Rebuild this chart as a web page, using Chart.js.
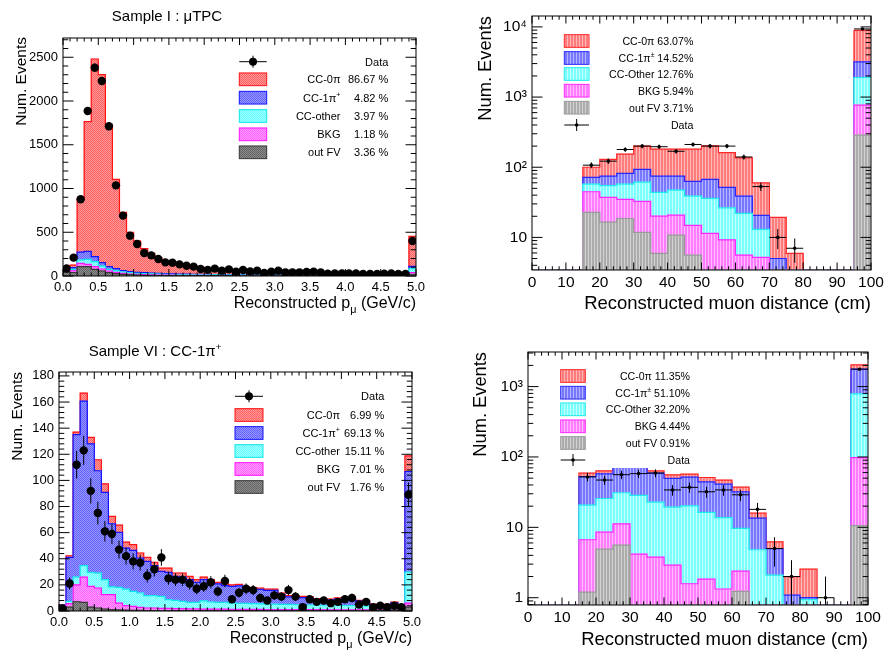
<!DOCTYPE html>
<html lang="en">
<head>
<meta charset="UTF-8">
<title>Reconstructed muon momentum and distance</title>
<script src="https://cdn.jsdelivr.net/npm/chart.js@4/dist/chart.umd.min.js"></script>
<style>
  * { margin: 0; padding: 0; }
  body { background: #fff; width: 884px; height: 653px; overflow: hidden; position: relative; }
  canvas { position: absolute; }
</style>
</head>
<body>
<canvas id="c1" width="442" height="320" style="left:0;top:0"></canvas>
<canvas id="c2" width="442" height="320" style="left:442px;top:0"></canvas>
<canvas id="c3" width="442" height="333" style="left:0;top:320px"></canvas>
<canvas id="c4" width="442" height="333" style="left:442px;top:320px"></canvas>
<script>
// bin lower edges
const momBins = [0.0,0.1,0.2,0.3,0.4,0.5,0.6,0.7,0.8,0.9,1.0,1.1,1.2,1.3,1.4,1.5,1.6,1.7,1.8,1.9,
                 2.0,2.1,2.2,2.3,2.4,2.5,2.6,2.7,2.8,2.9,3.0,3.1,3.2,3.3,3.4,3.5,3.6,3.7,3.8,3.9,
                 4.0,4.1,4.2,4.3,4.4,4.5,4.6,4.7,4.8,4.9];
const distBins = [0,5,10,15,20,25,30,35,40,45,50,55,60,65,70,75,80,85,90,95];

const momTicks = [0,0.5,1,1.5,2,2.5,3,3.5,4,4.5,5];
const distTicks = [0,10,20,30,40,50,60,70,80,90,100];
const s1YTicks = [0,500,1000,1500,2000,2500];
const s6YTicks = [0,20,40,60,80,100,120,140,160,180];
const logTicksA = [10,100,1000,10000];
const logTicksB = [1,10,100,1000];
const logLabels = {1: '1', 10: '10', 100: '10²', 1000: '10³', 10000: '10⁴'};

// Sample I : muTPC -- stacked heights as read (top of each layer)
const s1CC0pi = [90,125,880,1764,2480,2301,1730,1105,728,499,400,312,259,210,172,156,142,126,114,100,
                 92,85,78,73,68,64,61,58,55,52,50,48,46,44,42,40,39,37,35,34,33,31,30,29,28,27,26,25,24,453];
const s1CC1pi = [75,95,274,282,221,152,107,84,61,50,42,38,34,30,27,25,23,21,20,19,
                 18,17,16,15,15,14,14,13,13,13,12,12,12,11,11,11,11,10,10,10,10,10,9,9,9,9,9,9,9,110];
const s1CCother = [65,75,183,190,164,114,76,61,46,38,30,27,24,21,19,17,16,15,14,13,
                   12,12,11,11,11,10,10,10,10,9,9,9,9,9,8,8,8,8,8,8,7,7,7,7,7,7,7,7,7,85];
const s1BKG = [55,60,145,133,107,80,57,42,30,23,19,15,13,11,10,9,8,8,7,7,
               7,6,6,6,6,5,5,5,5,5,5,5,5,5,5,4,4,4,4,4,4,4,4,4,4,4,4,4,4,40];
const s1OutFV = [45,40,107,107,76,57,38,27,19,15,11,8,7,6,5,5,5,4,4,4,
                 4,4,4,4,4,3,3,3,3,3,3,3,3,3,3,3,3,3,3,3,3,3,3,3,3,3,3,3,3,20];
const s1Data = [85,210,878,1886,2381,2229,1711,1036,690,461,366,263,236,194,156,152,133,118,107,80,
                70,84,61,76,50,69,53,61,34,50,61,42,42,42,46,50,42,27,30,30,30,30,23,23,23,27,30,23,23,400];
const s1Pct = ['86.67 %', '4.82 %', '3.97 %', '1.18 %', '3.36 %'];

// Sample VI : CC-1pi+
const s6CC0pi = [4.8,42.3,137,166.8,133,115.8,97.4,72.4,65.8,52.8,50.8,44.4,41,37.2,32.9,32.9,29.1,29.1,26.5,24,
                 26,24,21.9,20.9,20,20.4,18.4,18,17.6,16.8,16.8,13.8,11.7,11.7,11.2,11,9.5,9.2,9.2,10,
                 10,10.2,8.2,8.2,5.3,5.3,5,6.9,4.3,118.8];
const s6CC1pi = [4.6,41,135,160.7,128,107.4,90.8,66.8,60.2,48.2,46.4,40.6,38,34.7,30.4,29.6,26.5,26,24,21.9,
                 24,21.9,20.7,19.4,18.8,19.2,17.3,17,16.6,15.8,15.8,12.8,10.8,10.8,10.3,10.1,8.7,8.4,8.4,9.2,
                 9.2,9.4,7.5,7.5,4.8,4.8,4.5,6.3,3.8,106.8];
const s6CCother = [4,7.4,26,34.7,29.6,29,24,18.4,18.1,16.8,15,13.8,11.7,11.7,11.2,8.7,8.2,7.4,6.6,6.6,
                   7.7,6.9,6.6,6.6,6,5.8,5.8,5.6,5.4,5.2,5.2,5,5,4.8,4.8,4.6,4.6,4.4,4.4,4.4,
                   4.2,4.2,4.2,4,4,4,3.8,3.8,3.6,29.8];
const s6BKG = [3,5.6,20,26,18.9,17.6,12.5,12.5,6.1,4.1,3.6,2.8,2.3,2.3,2,2,1.8,1.8,1.6,1.6,
               1.5,1.5,1.4,1.4,1.3,1.3,1.2,1.2,1.2,1.1,1.1,1.1,1,1,1,1,1,0.9,0.9,0.9,
               0.9,0.8,0.8,0.8,0.8,0.8,0.7,0.7,0.7,6.1];
const s6OutFV = [2,3,7.1,6.6,3,2.3,1.5,1,0.8,0.6,0.5,0.5,0.4,0.4,0.4,0.3,0.3,0.3,0.3,0.3,
                 0.3,0.3,0.3,0.3,0.3,0.3,0.3,0.3,0.3,0.3,0.3,0.3,0.3,0.3,0.3,0.3,0.3,0.3,0.3,0.3,
                 0.3,0.3,0.3,0.3,0.3,0.3,0.3,0.3,0.3,3];
const s6Data = [2,21,112,123,92,75,61,59,47,42,38,37,27,32,41,25,24,24,21,17,
                19,22,15,23,9,14,17,16,10,8,12,11,16,11,3,9,7,8,6,7,9,10,5,7,3,4,3,4,3,89];
const s6Pct = ['6.99 %', '69.13 %', '15.11 %', '7.01 %', '1.76 %'];

// muon distance, muTPC-like selection
const d1CC0pi = [0,0,0,100,129,154,200,181,181,181,202,162,136,60,19.3,5.9,0,0,0,8950];
const d1CC1pi = [0,0,0,71.5,74.6,81.5,93,74.6,74.6,62.7,67,51.5,38.8,20.6,5.0,0,0,0,0,3170];
const d1CCother = [0,0,0,57.4,54.5,57.4,61.4,43.7,47.2,38.8,35.9,26.4,22,13,0,0,0,0,0,1900];
const d1BKG = [0,0,0,44.7,37.2,34.8,32.6,20.1,20.8,14.8,11.4,9.2,5.6,5.2,0,0,0,0,0,766];
const d1OutFV = [0,0,0,22.7,16.5,18.6,11.8,5.9,10.8,5.6,0,0,0,0,0,0,0,0,0,287];
const d1Data = [0,0,0,107,122,179,200,196,169,211,200,200,140,53,10,7,0,0,0,9350];

// muon distance, CC-1pi-like selection
const d6CC0pi = [0,0,0,58.9,63.5,80,80,63.5,55.6,56.9,51.1,46.9,37.3,15.9,6.2,2.0,2.55,0,0,2030];
const d6CC1pi = [0,0,0,52.8,57.6,72,72,58.9,49.5,51.6,44.4,41.1,32.0,13.5,5.0,1.09,1.0,0,0,1766];
const d6CCother = [0,0,0,20.7,25.7,31,28.4,22.8,19.4,20.2,16.3,13.7,9.64,4.8,2.1,0,0.94,0,0,787];
const d6BKG = [0,0,0,6.66,8.55,11.2,4.17,3.78,2.91,1.58,1.84,1.33,2.39,0,0,0,0,0,0,98];
const d6OutFV = [0,0,0,1.2,4.9,5.6,0,0,0,0,0,0,1.23,0,0,0,0,0,0,10.6];
const d6Data = [0,0,0,52,47,56,58,59,34,37,32,34,29,18,5,2,0,1,0,1766];

const labelsA = [['CC-0π'], ['CC-1π', {sup: '+'}], ['CC-other'], ['BKG'], ['out FV']];
const d1Legend = [['CC-0π 63.07%'], ['CC-1π', {sup: '±'}, ' 14.52%'], ['CC-Other 12.76%'], ['BKG 5.94%'], ['out FV 3.71%']];
const d6Legend = [['CC-0π 11.35%'], ['CC-1π', {sup: '±'}, ' 51.10%'], ['CC-Other 32.20%'], ['BKG 4.44%'], ['out FV 0.91%']];

const FONT = "'Liberation Sans', Arial, Helvetica, sans-serif";

// fill colours [dark, light] + outline
const compA = [
  {fill: ['#ff6060', '#ff9898'], line: '#ff1414'},
  {fill: ['#6060ff', '#9898ff'], line: '#1414ff'},
  {fill: ['#60ffff', '#a4ffff'], line: '#10e8e8'},
  {fill: ['#ff60ff', '#ff9cff'], line: '#ff14ff'},
  {fill: ['#646464', '#8c8c8c'], line: '#383838'}
];
const compB = [
  {fill: ['#ff7c7c', '#ffb8b8'], line: '#ff2828'},
  {fill: ['#7878ff', '#b4b4ff'], line: '#2828ff'},
  {fill: ['#7cffff', '#c4ffff'], line: '#20ecec'},
  {fill: ['#ff7cff', '#ffbcff'], line: '#ff28ff'},
  {fill: ['#acacac', '#d2d2d2'], line: '#9a9a9a'}
];

function checker(ctx, c1, c2) {
  const cv = document.createElement('canvas');
  cv.width = 2; cv.height = 2;
  const g = cv.getContext('2d');
  g.fillStyle = c1; g.fillRect(0, 0, 2, 2);
  g.fillStyle = c2; g.fillRect(1, 0, 1, 1); g.fillRect(0, 1, 1, 1);
  return ctx.createPattern(cv, 'repeat');
}

function stripes(ctx, c1, c2) {
  const cv = document.createElement('canvas');
  cv.width = 3; cv.height = 1;
  const g = cv.getContext('2d');
  g.fillStyle = c1; g.fillRect(0, 0, 3, 1);
  g.fillStyle = c2; g.fillRect(2, 0, 1, 1);
  return ctx.createPattern(cv, 'repeat');
}

// text with simple sub/superscripts
function richText(ctx, parts, x, y, align, size) {
  const segs = parts.map(p => typeof p === 'string' ? {t: p, s: size, dy: 0}
    : p.sub ? {t: p.sub, s: size * 0.68, dy: size * 0.3}
    : {t: p.sup, s: size * 0.65, dy: -size * 0.42});
  let w = 0;
  segs.forEach(g => { ctx.font = g.s + 'px ' + FONT; g.w = ctx.measureText(g.t).width; w += g.w; });
  let cx = align === 'right' ? x - w : align === 'center' ? x - w / 2 : x;
  ctx.textAlign = 'left';
  ctx.textBaseline = 'alphabetic';
  ctx.fillStyle = '#000';
  segs.forEach(g => { ctx.font = g.s + 'px ' + FONT; ctx.fillText(g.t, cx, y + g.dy); cx += g.w; });
}

function drawLegend(ctx, L, rows) {
  ctx.save();
  if (L.bg) { ctx.fillStyle = '#fff'; ctx.fillRect(L.bg[0], L.bg[1], L.bg[2], L.bg[3]); }
  const [x0, x1] = L.symX, mid = (x0 + x1) / 2;
  const all = L.dataFirst ? [{data: true}, ...rows] : [...rows, {data: true}];
  all.forEach((r, i) => {
    const cy = L.rowsY[i], base = cy + L.font * 0.36;
    if (r.data) {
      ctx.strokeStyle = '#000'; ctx.lineWidth = 1;
      ctx.beginPath();
      ctx.moveTo(x0, cy); ctx.lineTo(x1, cy);
      ctx.moveTo(mid, cy - L.errH); ctx.lineTo(mid, cy + L.errH);
      ctx.stroke();
      ctx.fillStyle = '#000';
      ctx.beginPath(); ctx.arc(mid, cy, L.markR, 0, 2 * Math.PI); ctx.fill();
      richText(ctx, ['Data'], L.valueRight, base, 'right', L.font);
    } else {
      ctx.fillStyle = r.fill;
      ctx.fillRect(x0, cy - L.boxH / 2, x1 - x0, L.boxH);
      ctx.strokeStyle = r.line; ctx.lineWidth = 1;
      ctx.strokeRect(x0, cy - L.boxH / 2, x1 - x0, L.boxH);
      richText(ctx, r.label, L.labelRight, base, 'right', L.font);
      if (r.value) richText(ctx, [r.value], L.valueRight, base, 'right', L.font);
    }
  });
  ctx.restore();
}

// ROOT-like frame: box plus inward ticks on all four sides
function drawFrame(chart, p) {
  const {ctx, chartArea: a, scales: {x: xs, y: ys}} = chart;
  ctx.save();
  ctx.strokeStyle = '#000'; ctx.lineWidth = 1;
  ctx.strokeRect(a.left, a.top, a.right - a.left, a.bottom - a.top);
  ctx.beginPath();
  const nx = Math.round((xs.max - xs.min) / p.xMinor);
  for (let i = 0; i <= nx; i++) {
    const x = xs.getPixelForValue(xs.min + i * p.xMinor);
    const len = i % p.xSub === 0 ? p.xTick : p.xTick / 2;
    ctx.moveTo(x, a.bottom); ctx.lineTo(x, a.bottom - len);
    ctx.moveTo(x, a.top); ctx.lineTo(x, a.top + len);
  }
  const marks = [];
  if (p.log) {
    for (let d = Math.floor(Math.log10(ys.min)); d <= Math.ceil(Math.log10(ys.max)); d++) {
      for (let m = 1; m <= 9; m++) {
        const v = m * Math.pow(10, d);
        if (v >= ys.min && v <= ys.max) marks.push([v, m === 1]);
      }
    }
  } else {
    const ny = Math.floor(ys.max / p.yMinor);
    for (let i = 0; i <= ny; i++) marks.push([i * p.yMinor, i % p.ySub === 0]);
  }
  marks.forEach(([v, major]) => {
    const y = ys.getPixelForValue(v), len = major ? p.yTick : p.yTick / 2;
    ctx.moveTo(a.left, y); ctx.lineTo(a.left + len, y);
    ctx.moveTo(a.right, y); ctx.lineTo(a.right - len, y);
  });
  ctx.stroke();
  ctx.restore();
}

function drawTitles(ctx, p) {
  ctx.save();
  if (p.title) richText(ctx, p.title.parts, p.title.x, p.title.y, 'center', p.title.size);
  richText(ctx, p.xTitle.parts, p.xTitle.x, p.xTitle.y, 'right', p.xTitle.size);
  ctx.translate(p.yTitle.x, p.yTitle.y);
  ctx.rotate(-Math.PI / 2);
  richText(ctx, ['Num. Events'], 0, p.yTitle.size * 0.36, 'right', p.yTitle.size);
  ctx.restore();
}

function rootPlugin(p, legendRows) {
  return {
    id: 'root_' + p.id,
    afterDatasetsDraw(chart) {
      const {ctx, chartArea: a, scales: {x: xs, y: ys}} = chart;
      const pts = chart.data.datasets.find(d => d.isData).data;
      ctx.save();
      ctx.beginPath();
      ctx.rect(a.left, a.top, a.right - a.left, a.bottom - a.top);
      ctx.clip();
      ctx.strokeStyle = '#000'; ctx.lineWidth = 1;
      ctx.beginPath();
      pts.forEach(pt => {
        const err = Math.sqrt(pt.y);
        const px = xs.getPixelForValue(pt.x), py = ys.getPixelForValue(pt.y);
        ctx.moveTo(px, ys.getPixelForValue(Math.max(pt.y - err, ys.min)));
        ctx.lineTo(px, ys.getPixelForValue(pt.y + err));
        if (p.xErr) {
          ctx.moveTo(xs.getPixelForValue(pt.x - p.xErr), py);
          ctx.lineTo(xs.getPixelForValue(pt.x + p.xErr), py);
        }
      });
      ctx.stroke();
      ctx.restore();
      drawLegend(ctx, p.legend, legendRows);
    },
    afterDraw(chart) {
      drawFrame(chart, p);
      drawTitles(chart.ctx, p);
    }
  };
}

function makePanel(p) {
  const canvas = document.getElementById(p.id);
  const ctx = canvas.getContext('2d');
  const W = canvas.width, H = canvas.height;
  const [aL, aT, aR, aB] = p.area;
  const half = p.binW / 2;
  const floorV = p.log ? p.yMin : 0;
  const last = p.bins.length - 1;
  const datasets = [];
  const legendRows = [];

  p.stack.forEach((vals, k) => {
    const st = p.styles[k];
    const fill = p.pattern(ctx, st.fill[0], st.fill[1]);
    datasets.push({
      type: 'bar', grouped: false, barPercentage: 1, categoryPercentage: 1,
      data: p.bins.map((b, i) => ({x: b + half, y: vals[i]})),
      backgroundColor: fill, borderWidth: 0, order: 20 - 2 * k
    });
    // stepped outline of the same layer
    const outline = p.bins.map((b, i) => ({x: b, y: Math.max(vals[i], floorV)}));
    outline.push({x: p.bins[last] + p.binW, y: Math.max(vals[last], floorV)});
    datasets.push({
      type: 'line', data: outline, stepped: true, borderColor: st.line, borderWidth: 1.2,
      pointRadius: 0, fill: false, order: 19 - 2 * k
    });
    legendRows.push({fill, line: st.line, label: p.legend.labels[k], value: p.legend.values ? p.legend.values[k] : null});
  });

  datasets.push({
    type: 'scatter', isData: true, order: 0,
    data: p.bins.map((b, i) => ({x: b + half, y: p.data[i]})).filter(d => d.y > 0),
    pointRadius: p.markR, pointBackgroundColor: '#000', pointBorderWidth: 0
  });

  new Chart(ctx, {
    type: 'bar',
    data: {datasets},
    options: {
      responsive: false,
      animation: false,
      events: [],
      layout: {padding: {left: 0, top: aT, right: W - aR, bottom: 0}},
      plugins: {legend: {display: false}, tooltip: {enabled: false}, title: {display: false}},
      scales: {
        x: {
          type: 'linear', min: p.xMin, max: p.xMax, offset: false,
          grid: {display: false, drawTicks: false}, border: {display: false},
          ticks: {font: {family: FONT, size: p.tickFont}, color: '#000', padding: p.xPad,
                  maxRotation: 0, autoSkip: false, callback: p.xLabel},
          afterBuildTicks: s => { s.ticks = p.xTicks.map(v => ({value: v})); },
          afterFit: s => { s.height = H - aB; s.paddingLeft = 0; s.paddingRight = 0; }
        },
        y: {
          type: p.log ? 'logarithmic' : 'linear', min: p.yMin, max: p.yMax,
          grid: {display: false, drawTicks: false}, border: {display: false},
          ticks: {font: {family: FONT, size: p.tickFont}, color: '#000', padding: 5,
                  autoSkip: false, callback: p.yLabel},
          afterBuildTicks: s => { s.ticks = p.yTicks.map(v => ({value: v})); },
          afterFit: s => { s.width = aL; s.paddingTop = 0; s.paddingBottom = 0; }
        }
      }
    },
    plugins: [rootPlugin(p, legendRows)]
  });
}

makePanel({
  id: 'c1', area: [63, 38, 416, 276], bins: momBins, binW: 0.1,
  stack: [s1CC0pi, s1CC1pi, s1CCother, s1BKG, s1OutFV], styles: compA, pattern: checker,
  data: s1Data, markR: 4.2, xErr: 0,
  log: false, yMin: 0, yMax: 2720, yTicks: s1YTicks, yMinor: 100, ySub: 5, yLabel: v => String(v),
  xMin: 0, xMax: 5, xTicks: momTicks, xMinor: 0.1, xSub: 5, xLabel: v => v.toFixed(1),
  tickFont: 13, xTick: 7, yTick: 10.5, xPad: 4,
  title: {parts: ['Sample I : μTPC'], x: 167, y: 21, size: 15},
  xTitle: {parts: ['Reconstructed p', {sub: 'μ'}, ' (GeV/c)'], x: 416, y: 308, size: 16},
  yTitle: {x: 20, y: 37, size: 15.5},
  legend: {dataFirst: true, rowsY: [61.7, 79.3, 97.7, 116, 134.3, 152.3], symX: [239.3, 266.7], boxH: 12.7,
           labelRight: 340.5, valueRight: 388.3, font: 11, markR: 4, errH: 6, labels: labelsA, values: s1Pct}
});

makePanel({
  id: 'c2', area: [90, 16, 429, 270], bins: distBins, binW: 5,
  stack: [d1CC0pi, d1CC1pi, d1CCother, d1BKG, d1OutFV], styles: compB, pattern: stripes,
  data: d1Data, markR: 1.8, xErr: 2.5,
  log: true, yMin: 3.43, yMax: 14300, yTicks: logTicksA, yLabel: v => logLabels[v],
  xMin: 0, xMax: 100, xTicks: distTicks, xMinor: 2, xSub: 5, xLabel: v => String(v),
  tickFont: 15.5, xTick: 7.5, yTick: 10.5, xPad: 3,
  xTitle: {parts: ['Reconstructed muon distance (cm)'], x: 429, y: 309, size: 18.5},
  yTitle: {x: 42, y: 16, size: 18.3},
  legend: {dataFirst: false, rowsY: [41, 58, 74, 90.7, 107.7, 125], symX: [122.3, 147], boxH: 12.7,
           labelRight: 251.3, valueRight: 251.3, font: 10.6, markR: 1.8, errH: 6, labels: d1Legend}
});

makePanel({
  id: 'c3', area: [59, 52, 412, 291], bins: momBins, binW: 0.1,
  stack: [s6CC0pi, s6CC1pi, s6CCother, s6BKG, s6OutFV], styles: compA, pattern: checker,
  data: s6Data, markR: 4.2, xErr: 0,
  log: false, yMin: 0, yMax: 183, yTicks: s6YTicks, yMinor: 4, ySub: 5, yLabel: v => String(v),
  xMin: 0, xMax: 5, xTicks: momTicks, xMinor: 0.1, xSub: 5, xLabel: v => v.toFixed(1),
  tickFont: 13, xTick: 7, yTick: 10.5, xPad: 4,
  title: {parts: ['Sample VI : CC-1π', {sup: '+'}], x: 155, y: 36, size: 15},
  xTitle: {parts: ['Reconstructed p', {sub: 'μ'}, ' (GeV/c)'], x: 412, y: 323, size: 16},
  yTitle: {x: 16.5, y: 52, size: 15.5},
  legend: {dataFirst: true, rowsY: [76.3, 95, 113, 131, 149, 167], symX: [235, 263], boxH: 12.7,
           labelRight: 340, valueRight: 384.3, font: 11, markR: 4, errH: 6, labels: labelsA, values: s6Pct}
});

makePanel({
  id: 'c4', area: [86, 32, 426, 285], bins: distBins, binW: 5,
  stack: [d6CC0pi, d6CC1pi, d6CCother, d6BKG, d6OutFV], styles: compB, pattern: stripes,
  data: d6Data, markR: 1.8, xErr: 2.5,
  log: true, yMin: 0.788, yMax: 3100, yTicks: logTicksB, yLabel: v => logLabels[v],
  xMin: 0, xMax: 100, xTicks: distTicks, xMinor: 2, xSub: 5, xLabel: v => String(v),
  tickFont: 15.5, xTick: 7.5, yTick: 10.5, xPad: 3,
  xTitle: {parts: ['Reconstructed muon distance (cm)'], x: 426, y: 325, size: 18.5},
  yTitle: {x: 37.5, y: 32, size: 18.3},
  legend: {dataFirst: false, rowsY: [56, 72.7, 89.3, 106.3, 123, 140], symX: [118.7, 143.3], boxH: 12.7,
           labelRight: 248, valueRight: 248, font: 10.6, markR: 1.8, errH: 6, labels: d6Legend,
           bg: [110, 45, 150, 103]}
});
</script>
</body>
</html>
